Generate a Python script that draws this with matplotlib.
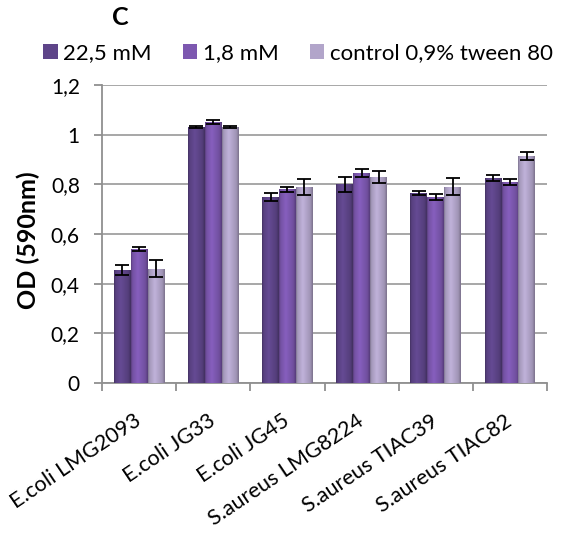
import numpy as np
import matplotlib
matplotlib.use("Agg")
import matplotlib.pyplot as plt
from matplotlib.colors import to_rgb
from matplotlib.ticker import FuncFormatter

plt.rcParams['font.family'] = ['Lato', 'DejaVu Sans']

strains = ['E.coli LMG2093', 'E.coli JG33', 'E.coli JG45',
           'S.aureus LMG8224', 'S.aureus TIAC39', 'S.aureus TIAC82']
series = ['22,5 mM', '1,8 mM', 'control 0,9% tween 80']
od_225 = [0.455, 1.032, 0.748, 0.800, 0.765, 0.827]
od_18 = [0.540, 1.052, 0.780, 0.845, 0.748, 0.810]
od_ctrl = [0.460, 1.030, 0.790, 0.830, 0.790, 0.914]
err_225 = [0.020, 0.004, 0.016, 0.030, 0.008, 0.012]
err_18 = [0.008, 0.008, 0.010, 0.015, 0.012, 0.012]
err_ctrl = [0.035, 0.004, 0.032, 0.024, 0.034, 0.015]

colors = ['#5e4589', '#7d58b0', '#b2a5ca']


def shade_bar(ax, bar, color):
    # cylinder-like horizontal shading, clipped to the bar
    base = np.array(to_rgb(color))
    t = np.linspace(0, 1, 40)
    f = np.interp(t, [0, 0.08, 0.4, 0.85, 1], [0.72, 0.92, 1.08, 0.9, 0.7])
    rgb = np.clip(base[None, :] * f[:, None], 0, 1)[None, :, :]
    x0, y0 = bar.get_x(), bar.get_y()
    im = ax.imshow(rgb, extent=[x0, x0 + bar.get_width(), y0, y0 + bar.get_height()],
                   aspect='auto', zorder=3, interpolation='bilinear')
    im.set_clip_path(bar)


fig = plt.figure(figsize=(5.62, 5.38), dpi=100)
ax = fig.add_axes([0.1815, 0.288, 0.792, 0.554])

x = np.arange(len(strains))
w = 0.228
for i, (vals, errs) in enumerate([(od_225, err_225), (od_18, err_18), (od_ctrl, err_ctrl)]):
    bars = ax.bar(x + (i - 1) * w, vals, w, color=colors[i], label=series[i], zorder=2)
    for b in bars:
        shade_bar(ax, b, colors[i])
    ax.errorbar(x + (i - 1) * w, vals, yerr=errs, fmt='none', ecolor='black',
                elinewidth=1.3, capsize=5, capthick=1.3, zorder=5)

ax.set_xlim(-0.5, len(strains) - 0.5)
ax.set_ylim(0, 1.2)
ax.set_yticks(np.arange(0, 1.21, 0.2))
ax.yaxis.set_major_formatter(FuncFormatter(lambda v, p: ('%g' % round(v, 1)).replace('.', ',')))
ax.grid(axis='y', color='#a0a0a0', linewidth=1.3, zorder=0)
ax.set_axisbelow(True)

ax.set_xticks(np.arange(-0.5, len(strains), 1.0))
ax.set_xticklabels([])
ax.set_xticks(x, minor=True)
ax.set_xticklabels(strains, minor=True, rotation=34, ha='right', va='center',
                   rotation_mode='anchor', fontsize=15.5)
ax.tick_params(axis='x', which='minor', length=0, pad=26)
ax.tick_params(axis='x', which='major', length=6, color='#909090', width=1.3)
ax.tick_params(axis='y', length=6, color='#909090', width=1.3, labelsize=15, pad=10)

for s in ['top', 'right']:
    ax.spines[s].set_visible(False)
for s in ['left', 'bottom']:
    ax.spines[s].set_color('#909090')
    ax.spines[s].set_linewidth(1.3)

ax.set_ylabel('OD (590nm)', fontsize=18, fontweight='bold')
ax.yaxis.set_label_coords(-0.14, 0.48)

fig.text(0.2135, 0.967, 'C', fontsize=18, fontweight='bold', ha='center', va='center')
ax.legend(loc='center', bbox_to_anchor=(0.44, 1.107), ncol=3, frameon=False,
          fontsize=16, handlelength=0.65, handleheight=0.65, handletextpad=0.25,
          columnspacing=1.4, borderaxespad=0)

fig.savefig('out.png', dpi=100)
